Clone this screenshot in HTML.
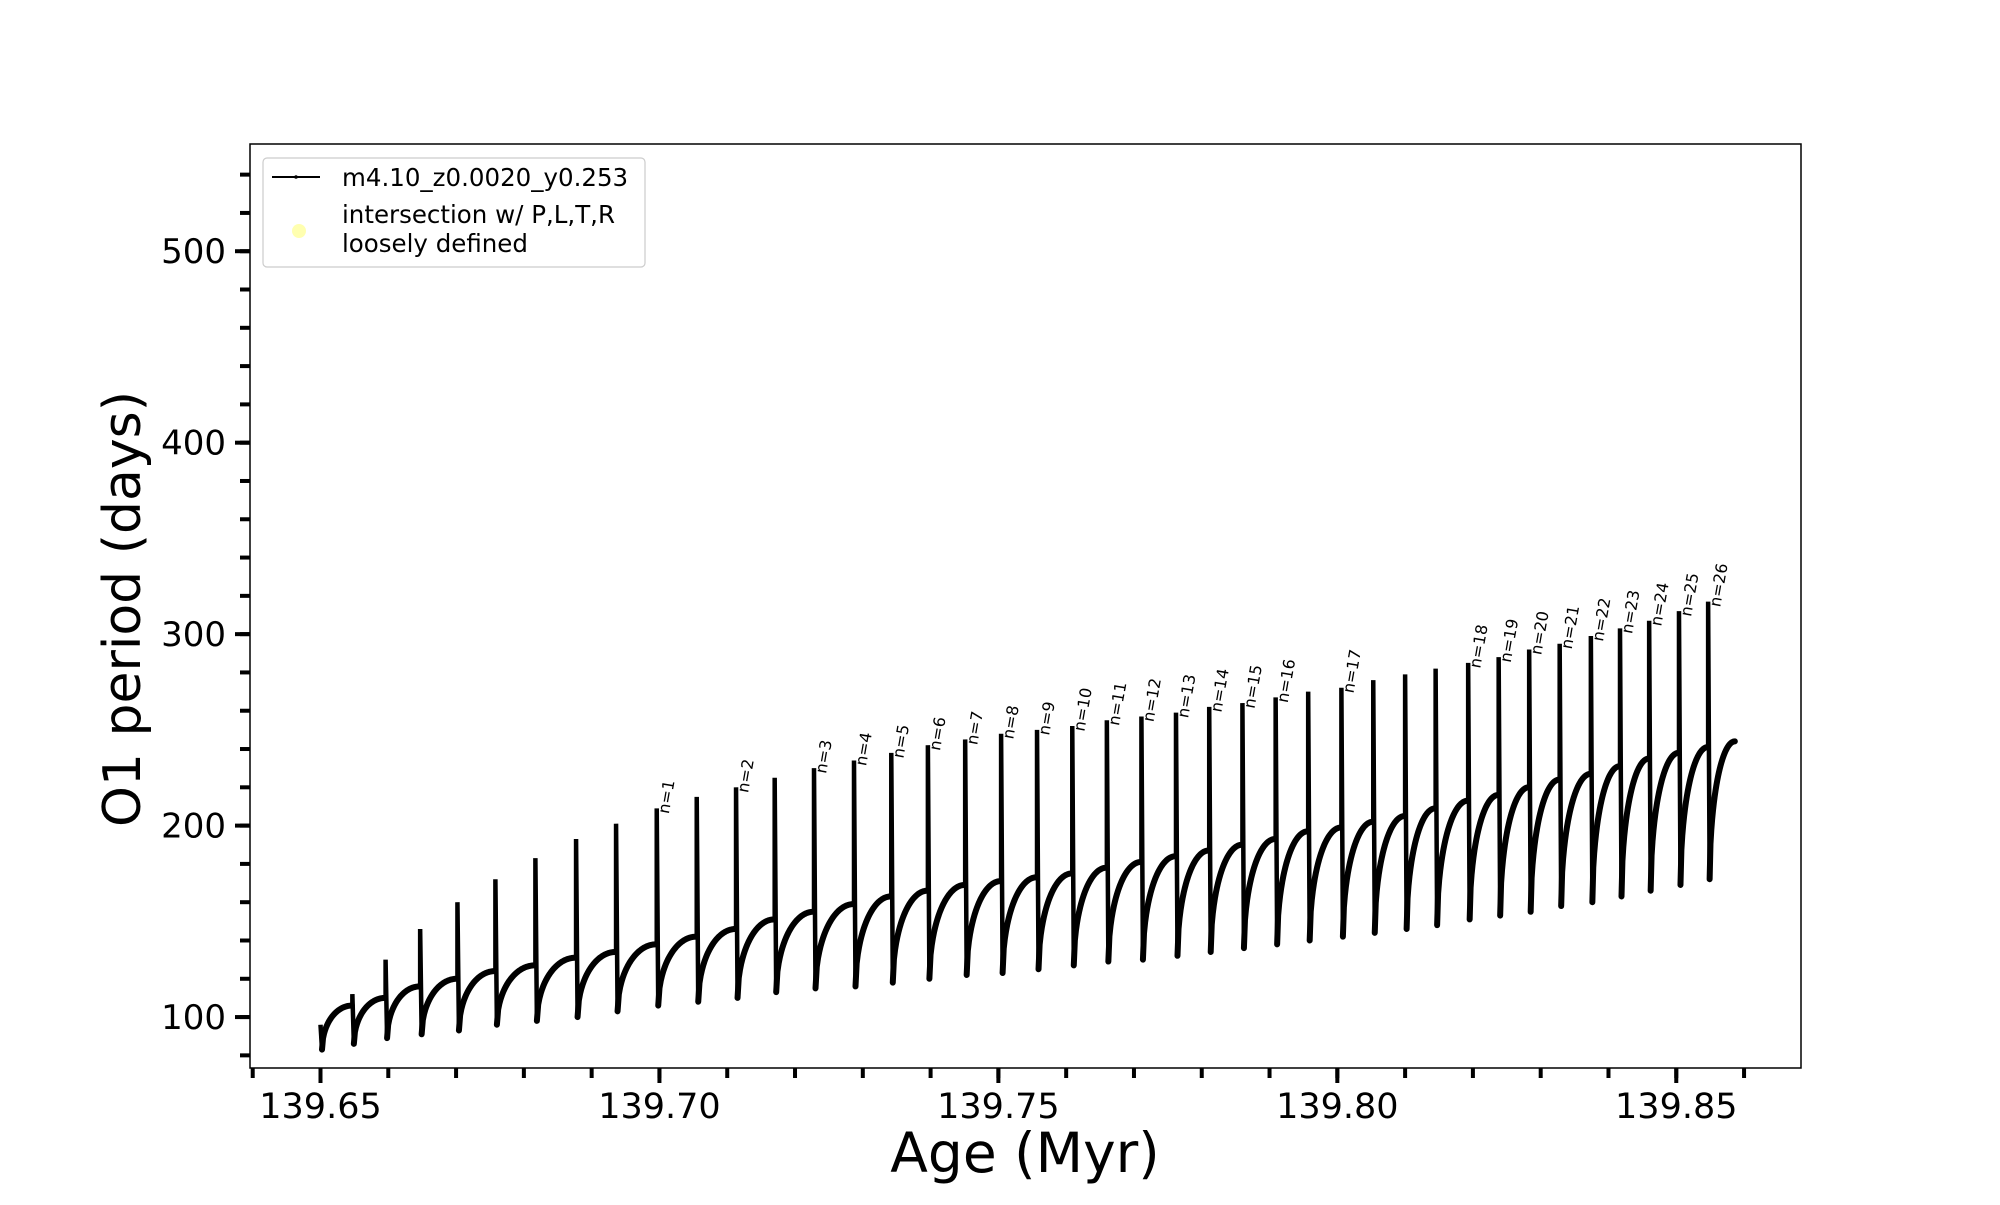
<!DOCTYPE html>
<html><head><meta charset="utf-8"><style>
html,body{margin:0;padding:0;background:#fff;}
svg text{font-family:"DejaVu Sans","Liberation Sans",sans-serif;}
</style></head><body>
<svg id="chart" width="2000" height="1200" viewBox="0 0 2000 1200" xmlns="http://www.w3.org/2000/svg">
<rect x="0" y="0" width="2000" height="1200" fill="#fff"/>
<g id="marks"></g>
<g id="labels"></g>
<rect x="250" y="144" width="1551" height="924" fill="none" stroke="#000" stroke-width="1.5"/>
<g id="axes"></g>
<text x="1025" y="1172" font-size="55" text-anchor="middle">Age (Myr)</text>
<text transform="translate(140,609) rotate(-90)" font-size="52" text-anchor="middle">O1 period (days)</text>
<g>
<rect x="263" y="158" width="382" height="109" rx="4" fill="#fff" stroke="#ccc" stroke-width="1.2"/>
<line x1="272" y1="177" x2="320" y2="177" stroke="#000" stroke-width="2"/>
<circle cx="296" cy="177" r="1.8" fill="#000"/>
<text x="342" y="186" font-size="24.5">m4.10_z0.0020_y0.253</text>
<circle cx="299" cy="231" r="7" fill="#ffffb0"/>
<text x="342" y="223" font-size="24.5">intersection w/ P,L,T,R</text>
<text x="342" y="252" font-size="24.5">loosely defined</text>
</g>
</svg>
<script>
// pulse ages (Myr), spike peaks, dip minima after pulse, plateau values before each pulse
const startAge = 139.6500;
const startPeak = 96;
const startDip = 83;
const pulseAges = [139.6547,139.6596,139.6647,139.6702,139.6758,139.6817,139.6877,139.6936,139.6996,139.7055,139.7113,139.7170,139.7228,139.7287,139.7342,139.7396,139.7451,139.7504,139.7557,139.7609,139.7660,139.7711,139.7762,139.7811,139.7860,139.7909,139.7957,139.8006,139.8053,139.8100,139.8145,139.8193,139.8238,139.8283,139.8328,139.8374,139.8417,139.8460,139.8504,139.8547];
const pulsePeaks = [112,130,146,160,172,183,193,201,209,215,220,225,230,234,238,242,245,248,250,252,255,257,259,262,264,267,270,272,276,279,282,285,288,292,295,299,303,307,312,317];
const pulseDips = [86,89,91,93,96,98,100,103,106,108,110,113,115,116,118,120,122,123,125,127,129,130,132,134,136,138,140,142,144,146,148,151,153,155,158,160,163,166,169,172];
const plateaus = [106,110,116,120,124,127,131,134,138,142,146,151,155,159,163,166,169,171,173,175,178,181,184,187,190,193,197,199,202,205,209,213,216,220,224,227,231,235,238,241];
const endAge = 139.8587;
const endPlateau = 244;
const nLabels = [1,2,3,4,5,6,7,8,9,10,11,12,13,14,15,16,17,18,19,20,21,22,23,24,25,26];
const nPulseIndex = [8,10,12,13,14,15,16,17,18,19,20,21,22,23,24,25,27,31,32,33,34,35,36,37,38,39];
const xTicks = [139.65,139.70,139.75,139.80,139.85];
const xTickLabels = ["139.65","139.70","139.75","139.80","139.85"];
const yTicks = [100,200,300,400,500];
const yTickLabels = ["100","200","300","400","500"];

const X0=139.6396, X1=139.8684, Y0=73.4, Y1=556;
const L=250,R=1801,T=144,B=1068;
function sx(v){return L+(v-X0)/(X1-X0)*(R-L);}
function sy(v){return B-(v-Y0)/(Y1-Y0)*(B-T);}
const NS="http://www.w3.org/2000/svg";
function mk(tag,attrs,parent){const e=document.createElementNS(NS,tag);for(const k in attrs)e.setAttribute(k,attrs[k]);parent.appendChild(e);return e;}
const marks=document.getElementById('marks');
const labels=document.getElementById('labels');
const axes=document.getElementById('axes');

const cAges=[startAge].concat(pulseAges);
const cPeaks=[startPeak].concat(pulsePeaks);
const cDips=[startDip].concat(pulseDips);
const cPrev=[startDip+13].concat(plateaus);
const nextAges=pulseAges.concat([endAge]);
const nextPlat=plateaus.concat([endPlateau]);
for(let i=0;i<cAges.length;i++){
  const a=cAges[i], a2=nextAges[i];
  const spike=mk('path',{d:`M${sx(a)},${sy(cPrev[i])} L${sx(a)},${sy(cPeaks[i])} L${sx(a)+1.5},${sy(cDips[i])}`,fill:'none',stroke:'#000','stroke-width':4.5},marks);
  
  
  let d=`M${sx(a)+1.5},${sy(cDips[i])}`;
  const N=30;
  for(let k=1;k<=N;k++){
    const u=k/N;
    const f=Math.sqrt(1-(1-u)*(1-u));
    const xa=a+(a2-a)*u*0.985;
    const v=cDips[i]+(nextPlat[i]-cDips[i])*f;
    d+=` L${sx(xa)+1.5*(1-u)},${sy(v)}`;
  }
  const curve=mk('path',{d:d,fill:'none',stroke:'#000','stroke-width':6,'stroke-linejoin':'round','stroke-linecap':'round'},marks);
  
  
}
for(let j=0;j<nLabels.length;j++){
  const p=nPulseIndex[j];
  const x=sx(pulseAges[p])+12, y=sy(pulsePeaks[p])+6;
  const t=mk('text',{transform:`translate(${x},${y}) rotate(-80)`,'font-size':16},labels);
  t.textContent='n='+nLabels[j];
  
  
}
for(let v=139.64;v<=139.8601;v+=0.01){
  const x=sx(v);
  const tk=mk('line',{x1:x,y1:B,x2:x,y2:B+10,stroke:'#000','stroke-width':4},axes);
  
  
}
for(let i=0;i<xTicks.length;i++){
  const x=sx(xTicks[i]);
  const tk=mk('line',{x1:x,y1:B,x2:x,y2:B+15,stroke:'#000','stroke-width':4},axes);
  
  
  const t=mk('text',{x:x,y:B+50,'font-size':35,'text-anchor':'middle'},axes);
  t.textContent=xTickLabels[i];
  
  
}
for(let v=80;v<=540;v+=20){
  const y=sy(v);
  const tk=mk('line',{x1:L-10,y1:y,x2:L,y2:y,stroke:'#000','stroke-width':4},axes);
  
  
}
for(let i=0;i<yTicks.length;i++){
  const y=sy(yTicks[i]);
  const tk=mk('line',{x1:L-15,y1:y,x2:L,y2:y,stroke:'#000','stroke-width':4},axes);
  
  
  const t=mk('text',{x:226,y:y+12,'font-size':34,'text-anchor':'end'},axes);
  t.textContent=yTickLabels[i];
  
  
}
</script>
</body></html>
